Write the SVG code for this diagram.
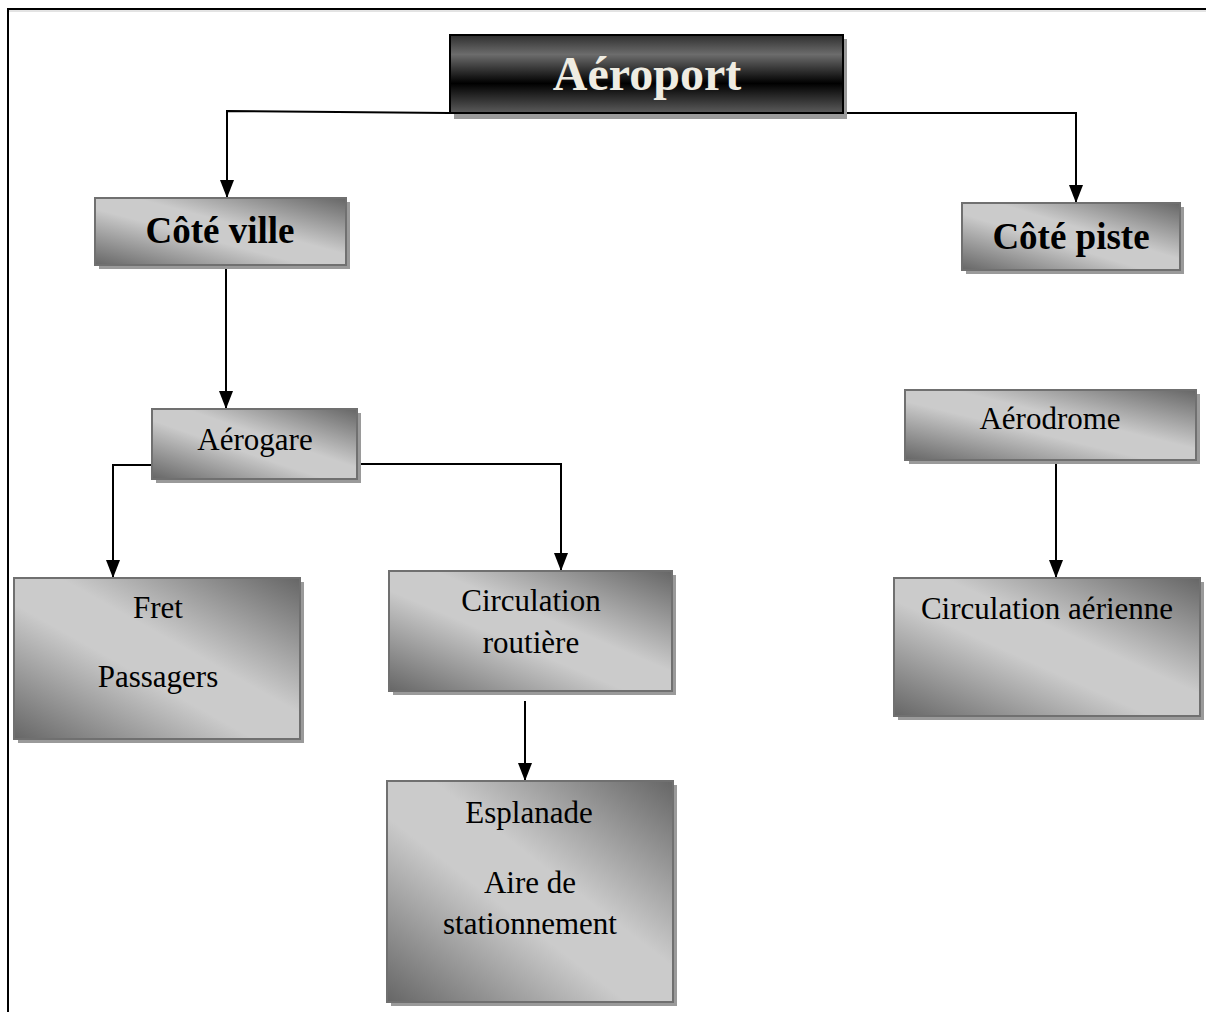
<svg xmlns="http://www.w3.org/2000/svg" width="1206" height="1012" viewBox="0 0 1206 1012">
  <defs>
    <!-- diagonal grey fill: dark top-right and bottom-left corners, light band through the middle -->
    <linearGradient id="gBox" x1="1" y1="0" x2="0" y2="1">
      <stop offset="0" stop-color="#666666"/>
      <stop offset="0.42" stop-color="#cbcbcb"/>
      <stop offset="0.58" stop-color="#cbcbcb"/>
      <stop offset="1" stop-color="#666666"/>
    </linearGradient>
    <!-- banded dark fill for the title box -->
    <linearGradient id="gTitle" x1="0" y1="0" x2="0" y2="1">
      <stop offset="0" stop-color="#2e2e2e"/>
      <stop offset="0.25" stop-color="#6c6c6c"/>
      <stop offset="0.62" stop-color="#000000"/>
      <stop offset="1" stop-color="#5c5c5c"/>
    </linearGradient>
    <!-- solid arrowhead, drawn along +x so orient="auto" turns it with the line -->
    <marker id="arrow" viewBox="0 0 18 14" refX="18" refY="7" markerWidth="18" markerHeight="14" markerUnits="userSpaceOnUse" orient="auto">
      <path d="M0,0 L18,7 L0,14 Z" fill="#000"/>
    </marker>
  </defs>
  <style>
    .shadow { fill: #9a9a9a; }
    .box { fill: url(#gBox); stroke: #707070; stroke-width: 2; }
    .title { fill: url(#gTitle); stroke: #000; stroke-width: 2; }
    .lbl { font-family: "Liberation Serif", "Times New Roman", serif; font-size: 31px; fill: #000; text-anchor: middle; }
    .bold { font-weight: bold; font-size: 37px; }
    .ttl { font-family: "Liberation Serif", "Times New Roman", serif; font-weight: bold; font-size: 48px; fill: #efece2; text-anchor: middle; }
    .conn { fill: none; stroke: #000; stroke-width: 2; }
    .arr { marker-end: url(#arrow); }
  </style>

  <rect width="1206" height="1012" fill="#fff"/>

  <!-- page frame -->
  <g id="frame">
    <line x1="7" y1="9" x2="1206" y2="9" stroke="#000" stroke-width="2"/>
    <line x1="9" y1="11" x2="1206" y2="11" stroke="#c8c8c8" stroke-width="1"/>
    <line x1="8" y1="8" x2="8" y2="1012" stroke="#000" stroke-width="2"/>
  </g>

  <!-- connectors -->
  <g id="connectors">
    <path class="conn arr" d="M449,113 L227,111 L227,198"/>
    <path class="conn arr" d="M843,113 L1076,113 L1076,203"/>
    <path class="conn arr" d="M226,265 L226,409"/>
    <path class="conn arr" d="M152,465 L113,465 L113,578"/>
    <path class="conn arr" d="M357,464 L561,464 L561,571"/>
    <path class="conn arr" d="M525,701 L525,781"/>
    <path class="conn arr" d="M1056,463 L1056,578"/>
  </g>

  <g id="aeroport">
    <rect class="shadow" x="454" y="39" width="393" height="80"/>
    <rect class="title" x="450" y="35" width="393" height="78"/>
    <text class="ttl" x="647" y="90">Aéroport</text>
  </g>

  <g id="cote-ville">
    <rect class="shadow" x="99" y="202" width="251" height="67"/>
    <rect class="box" x="95" y="198" width="251" height="67"/>
    <text class="lbl bold" x="220" y="243">Côté ville</text>
  </g>

  <g id="cote-piste">
    <rect class="shadow" x="966" y="207" width="218" height="67"/>
    <rect class="box" x="962" y="203" width="218" height="67"/>
    <text class="lbl bold" x="1071" y="249">Côté piste</text>
  </g>

  <g id="aerogare">
    <rect class="shadow" x="156" y="413" width="205" height="70"/>
    <rect class="box" x="152" y="409" width="205" height="70"/>
    <text class="lbl" x="255" y="450">Aérogare</text>
  </g>

  <g id="fret-passagers">
    <rect class="shadow" x="18" y="582" width="286" height="161"/>
    <rect class="box" x="14" y="578" width="286" height="161"/>
    <text class="lbl" x="158" y="618">Fret</text>
    <text class="lbl" x="158" y="687">Passagers</text>
  </g>

  <g id="circulation-routiere">
    <rect class="shadow" x="393" y="575" width="283" height="120"/>
    <rect class="box" x="389" y="571" width="283" height="120"/>
    <text class="lbl" x="531" y="611">Circulation</text>
    <text class="lbl" x="531" y="653">routière</text>
  </g>

  <g id="esplanade">
    <rect class="shadow" x="391" y="785" width="286" height="221"/>
    <rect class="box" x="387" y="781" width="286" height="221"/>
    <text class="lbl" x="529" y="823">Esplanade</text>
    <text class="lbl" x="530" y="893">Aire de</text>
    <text class="lbl" x="530" y="934">stationnement</text>
  </g>

  <g id="aerodrome">
    <rect class="shadow" x="909" y="394" width="291" height="70"/>
    <rect class="box" x="905" y="390" width="291" height="70"/>
    <text class="lbl" x="1050" y="429">Aérodrome</text>
  </g>

  <g id="circulation-aerienne">
    <rect class="shadow" x="898" y="582" width="306" height="138"/>
    <rect class="box" x="894" y="578" width="306" height="138"/>
    <text class="lbl" x="1047" y="619">Circulation aérienne</text>
  </g>
</svg>
